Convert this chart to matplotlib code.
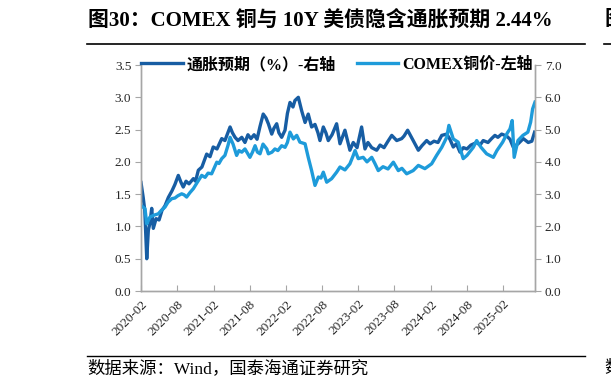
import matplotlib
matplotlib.use("Agg")
import matplotlib.pyplot as plt
import matplotlib.dates as mdates
from matplotlib.lines import Line2D
import pandas as pd

plt.rcParams["font.family"] = ["Liberation Serif", "Noto Sans CJK SC"]
plt.rcParams["axes.unicode_minus"] = False

# 10Y breakeven inflation (%), drawn against the left scale
infl_dates = [
    "2020-02-17", "2020-02-28", "2020-03-07", "2020-03-17", "2020-03-25", "2020-04-02",
    "2020-04-11", "2020-04-19", "2020-05-03", "2020-05-18", "2020-06-02", "2020-06-17",
    "2020-07-04", "2020-07-22", "2020-08-06", "2020-08-23", "2020-09-06", "2020-09-17",
    "2020-10-01", "2020-10-16", "2020-11-07", "2020-11-18", "2020-12-02", "2020-12-20",
    "2021-01-13", "2021-01-30", "2021-02-15", "2021-03-06", "2021-03-30", "2021-04-15",
    "2021-05-11", "2021-05-23", "2021-06-05", "2021-06-20", "2021-07-09", "2021-07-25",
    "2021-08-09", "2021-08-24", "2021-09-09", "2021-09-24", "2021-10-09", "2021-10-25",
    "2021-11-08", "2021-11-20", "2021-12-07", "2021-12-18", "2022-01-01", "2022-01-12",
    "2022-01-26", "2022-02-12", "2022-02-24", "2022-03-09", "2022-03-24", "2022-04-03",
    "2022-04-20", "2022-05-07", "2022-05-24", "2022-06-09", "2022-06-26", "2022-07-13",
    "2022-07-28", "2022-08-07", "2022-08-24", "2022-09-06", "2022-09-18", "2022-10-07",
    "2022-10-30", "2022-11-16", "2022-12-11", "2023-01-05", "2023-01-22", "2023-02-10",
    "2023-03-05", "2023-03-22", "2023-04-06", "2023-04-25", "2023-05-20", "2023-06-06",
    "2023-06-26", "2023-07-16", "2023-08-04", "2023-08-29", "2023-09-23", "2023-10-05",
    "2023-10-23", "2023-11-20", "2023-12-16", "2024-01-03", "2024-01-27", "2024-02-13",
    "2024-03-04", "2024-03-24", "2024-04-12", "2024-05-07", "2024-05-23", "2024-06-09",
    "2024-06-25", "2024-07-13", "2024-07-30", "2024-08-17", "2024-09-06", "2024-10-05",
    "2024-10-22", "2024-11-07", "2024-12-01", "2024-12-19", "2025-01-05", "2025-01-20",
    "2025-02-08", "2025-03-05", "2025-03-22", "2025-04-07", "2025-05-02", "2025-05-28",
    "2025-06-22", "2025-07-10", "2025-07-24",
]
infl_values = [
    1.68, 1.45, 1.25, 0.50, 0.94, 1.05,
    1.28, 0.97, 1.12, 1.10, 1.25, 1.32,
    1.45, 1.55, 1.65, 1.79, 1.68, 1.61,
    1.70, 1.66, 1.74, 1.70, 1.87, 1.92,
    2.12, 2.08, 2.23, 2.20, 2.36, 2.33,
    2.54, 2.45, 2.38, 2.33, 2.38, 2.30,
    2.42, 2.36, 2.42, 2.35, 2.55, 2.74,
    2.68, 2.59, 2.43, 2.52, 2.59, 2.45,
    2.38, 2.49, 2.75, 2.92, 2.85, 2.95,
    3.00, 2.79, 2.61, 2.74, 2.54, 2.58,
    2.45, 2.33, 2.54, 2.45, 2.33, 2.42,
    2.59, 2.28, 2.49, 2.18, 2.30, 2.22,
    2.54, 2.20, 2.30, 2.22, 2.18, 2.26,
    2.22, 2.32, 2.41, 2.33, 2.36, 2.40,
    2.49, 2.33, 2.18, 2.25, 2.33, 2.28,
    2.32, 2.30, 2.41, 2.43, 2.35, 2.23,
    2.28, 2.15, 2.22, 2.20, 2.26, 2.30,
    2.26, 2.33, 2.30, 2.36, 2.41, 2.38,
    2.43, 2.40, 2.35, 2.23, 2.28, 2.36,
    2.30, 2.32, 2.46,
]

# COMEX copper (USD/lb), drawn against the right scale
copper_dates = [
    "2020-02-17", "2020-02-27", "2020-03-08", "2020-03-17", "2020-03-26", "2020-04-02",
    "2020-04-23", "2020-05-14", "2020-05-30", "2020-06-17", "2020-07-02", "2020-07-21",
    "2020-08-06", "2020-08-21", "2020-09-09", "2020-09-21", "2020-10-04", "2020-10-21",
    "2020-11-07", "2020-11-25", "2020-12-19", "2021-01-05", "2021-01-20", "2021-02-07",
    "2021-03-05", "2021-03-16", "2021-03-30", "2021-04-15", "2021-04-30", "2021-05-11",
    "2021-05-26", "2021-06-13", "2021-06-25", "2021-07-09", "2021-07-25", "2021-08-19",
    "2021-09-01", "2021-09-14", "2021-09-26", "2021-10-09", "2021-10-24", "2021-11-12",
    "2021-11-20", "2021-12-08", "2021-12-23", "2022-01-07", "2022-01-26", "2022-02-12",
    "2022-02-24", "2022-03-09", "2022-03-26", "2022-04-12", "2022-04-28", "2022-05-24",
    "2022-06-09", "2022-06-26", "2022-07-13", "2022-07-30", "2022-08-12", "2022-08-24",
    "2022-09-10", "2022-10-05", "2022-10-30", "2022-11-16", "2022-12-11", "2023-01-05",
    "2023-01-22", "2023-01-31", "2023-02-16", "2023-03-13", "2023-04-01", "2023-04-25",
    "2023-05-11", "2023-05-28", "2023-06-21", "2023-07-16", "2023-08-12", "2023-09-06",
    "2023-09-24", "2023-10-18", "2023-11-20", "2023-12-16", "2024-01-18", "2024-02-21",
    "2024-03-17", "2024-04-12", "2024-05-07", "2024-05-18", "2024-06-09", "2024-07-04",
    "2024-07-29", "2024-08-17", "2024-09-18", "2024-10-05", "2024-10-27", "2024-11-24",
    "2024-12-28", "2025-01-15", "2025-02-13", "2025-03-09", "2025-03-22", "2025-04-02",
    "2025-04-12", "2025-05-01", "2025-05-26", "2025-06-20", "2025-07-04", "2025-07-14",
    "2025-07-26",
]
copper_values = [
    2.65, 2.60, 2.55, 2.08, 2.20, 2.29,
    2.35, 2.39, 2.50, 2.60, 2.75, 2.86,
    2.88, 2.95, 3.01, 2.98, 2.91, 3.05,
    3.17, 3.35, 3.58, 3.52, 3.65, 3.63,
    3.99, 3.95, 4.10, 4.20, 4.50, 4.76,
    4.55, 4.20, 4.35, 4.30, 4.40, 4.14,
    4.30, 4.50, 4.30, 4.25, 4.55, 4.40,
    4.25, 4.30, 4.40, 4.35, 4.50, 4.45,
    4.60, 4.92, 4.71, 4.82, 4.61, 4.56,
    4.14, 3.73, 3.27, 3.53, 3.50, 3.68,
    3.37, 3.48, 3.68, 3.84, 3.75, 3.94,
    4.20, 4.35, 4.10, 4.14, 4.00, 4.14,
    3.95, 3.73, 3.85, 3.78, 3.99, 3.73,
    3.80, 3.63, 3.73, 3.89, 3.79, 3.94,
    4.20, 4.45, 4.76, 5.13, 4.71, 4.61,
    4.10, 4.20, 4.45, 4.66, 4.45, 4.25,
    4.14, 4.35, 4.61, 4.90, 5.02, 5.28,
    4.14, 4.66, 4.82, 4.92, 5.23, 5.64,
    5.85,
]

series_labels = ["通胀预期（%）-右轴", "COMEX铜价-左轴"]
left_ticks = [0.0, 0.5, 1.0, 1.5, 2.0, 2.5, 3.0, 3.5]
right_ticks = [0.0, 1.0, 2.0, 3.0, 4.0, 5.0, 6.0, 7.0]

title_text = "图30：COMEX 铜与 10Y 美债隐含通胀预期 2.44%"
source_text = "数据来源：Wind，国泰海通证券研究"

dark_blue = "#175DA3"
light_blue = "#1E9BDA"
axis_grey = "#A6A6A6"

W, H = 611, 389
fig = plt.figure(figsize=(W / 100, H / 100), dpi=100)
ax = fig.add_axes([141 / W, 1 - 291 / H, 394 / W, 226 / H])
ax2 = ax.twinx()

x_infl = pd.to_datetime(infl_dates)
x_copper = pd.to_datetime(copper_dates)

line1, = ax.plot(x_infl, infl_values, color=dark_blue, lw=2.4, label=series_labels[0])
line2, = ax2.plot(x_copper, copper_values, color=light_blue, lw=2.4, label=series_labels[1])

start = pd.Timestamp("2020-02-17")
ax.set_xlim(start, pd.Timestamp("2025-07-26"))
ax.set_ylim(0, 3.5)
ax2.set_ylim(0, 7.0)
ax.set_yticks(left_ticks)
ax2.set_yticks(right_ticks)
ax.yaxis.set_major_formatter(plt.FormatStrFormatter("%.1f"))
ax2.yaxis.set_major_formatter(plt.FormatStrFormatter("%.1f"))

xticks = pd.date_range(start, periods=11, freq=pd.DateOffset(months=6))
ax.set_xticks(xticks)
ax.xaxis.set_major_formatter(mdates.DateFormatter("%Y-%m"))
for lab in ax.get_xticklabels():
    lab.set_rotation(45)
    lab.set_ha("right")
    lab.set_rotation_mode("anchor")

for a in (ax, ax2):
    a.spines["top"].set_visible(False)
    for side in ("left", "right", "bottom"):
        a.spines[side].set_color(axis_grey)
        a.spines[side].set_linewidth(1.0)

ax.tick_params(axis="y", direction="out", length=4, color=axis_grey,
               labelsize=9.5, labelcolor="#262626", pad=3)
ax2.tick_params(axis="y", direction="out", length=4, color=axis_grey,
                labelsize=9.5, labelcolor="#262626", pad=3)
ax.tick_params(axis="x", direction="in", length=4, color=axis_grey,
               labelsize=9.5, labelcolor="#262626", pad=5)

leg = ax2.legend(handles=[line1, line2], loc="center left", bbox_to_anchor=(0.0, 1.0),
                 ncol=2, frameon=False, borderpad=0, borderaxespad=0,
                 handlelength=2.6, handletextpad=0.25, columnspacing=1.3,
                 prop={"weight": "bold", "size": 11.5})

# title and source rows
fig.text(88 / W, 1 - 20 / H, title_text, fontsize=15, fontweight="bold", va="center")
fig.add_artist(Line2D([87 / W, 585 / W], [1 - 44 / H] * 2, color="black", lw=1.2))
fig.text(604 / W, 1 - 20 / H, "图", fontsize=15, fontweight="bold", va="center")
fig.add_artist(Line2D([604 / W, 1.0], [1 - 44 / H] * 2, color="black", lw=1.2))

fig.add_artist(Line2D([87 / W, 585 / W], [1 - 356 / H] * 2, color="black", lw=1.0))
fig.text(87 / W, 1 - 369 / H, source_text, fontsize=12.5, va="center")
fig.text(604 / W, 1 - 369 / H, "数", fontsize=12.5, va="center")

fig.savefig("out.png", dpi=100)
